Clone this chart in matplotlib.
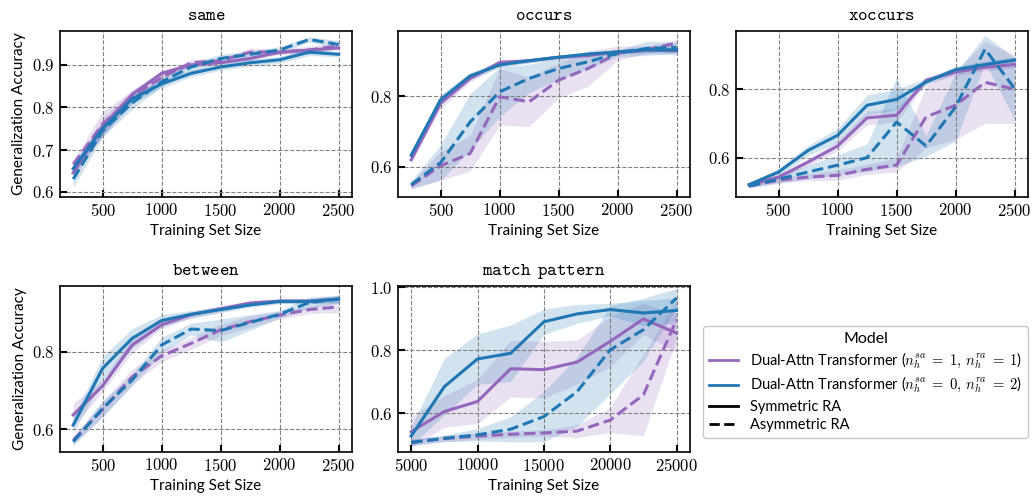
import matplotlib
matplotlib.use("Agg")
import matplotlib.pyplot as plt
from matplotlib.lines import Line2D
from matplotlib.ticker import FuncFormatter
import numpy as np

plt.rcParams.update({
    "font.family": ["Lato", "DejaVu Sans"],
    "mathtext.fontset": "cm",
    "font.size": 10,
})

PURPLE = "#9467bd"
BLUE = "#1f77b4"

sizes = [250, 500, 750, 1000, 1250, 1500, 1750, 2000, 2250, 2500]
sizes_match = [5000, 7500, 10000, 12500, 15000, 17500, 20000, 22500, 25000]

# rows: (1,1) symmetric, (1,1) asymmetric, (0,2) symmetric, (0,2) asymmetric
same_mean = [
    [0.645, 0.755, 0.830, 0.880, 0.900, 0.905, 0.915, 0.930, 0.935, 0.940],
    [0.665, 0.760, 0.825, 0.870, 0.905, 0.910, 0.930, 0.930, 0.935, 0.945],
    [0.655, 0.750, 0.820, 0.855, 0.880, 0.895, 0.905, 0.912, 0.930, 0.925],
    [0.630, 0.745, 0.810, 0.860, 0.895, 0.915, 0.925, 0.935, 0.960, 0.948],
]
same_sd = [
    [0.015, 0.020, 0.010, 0.008, 0.005, 0.005, 0.005, 0.005, 0.005, 0.005],
    [0.010, 0.030, 0.015, 0.010, 0.008, 0.005, 0.010, 0.005, 0.010, 0.005],
    [0.015, 0.015, 0.010, 0.010, 0.008, 0.008, 0.008, 0.008, 0.008, 0.006],
    [0.020, 0.015, 0.015, 0.010, 0.010, 0.010, 0.008, 0.008, 0.006, 0.010],
]

occurs_mean = [
    [0.620, 0.780, 0.850, 0.895, 0.900, 0.910, 0.915, 0.925, 0.930, 0.928],
    [0.546, 0.603, 0.638, 0.798, 0.784, 0.845, 0.878, 0.921, 0.931, 0.950],
    [0.633, 0.790, 0.857, 0.888, 0.900, 0.910, 0.919, 0.925, 0.931, 0.931],
    [0.550, 0.612, 0.727, 0.812, 0.850, 0.878, 0.897, 0.921, 0.935, 0.937],
]
occurs_sd = [
    [0.010, 0.015, 0.010, 0.008, 0.006, 0.005, 0.005, 0.005, 0.005, 0.005],
    [0.010, 0.040, 0.050, 0.080, 0.070, 0.050, 0.050, 0.020, 0.010, 0.010],
    [0.010, 0.015, 0.010, 0.008, 0.006, 0.005, 0.005, 0.005, 0.010, 0.015],
    [0.010, 0.050, 0.080, 0.070, 0.040, 0.030, 0.020, 0.010, 0.020, 0.015],
]

xoccurs_mean = [
    [0.520, 0.543, 0.587, 0.634, 0.716, 0.724, 0.826, 0.850, 0.864, 0.872],
    [0.517, 0.534, 0.543, 0.548, 0.566, 0.578, 0.719, 0.753, 0.820, 0.800],
    [0.521, 0.558, 0.621, 0.665, 0.753, 0.770, 0.821, 0.857, 0.872, 0.885],
    [0.517, 0.537, 0.558, 0.578, 0.600, 0.704, 0.634, 0.748, 0.917, 0.802],
]
xoccurs_sd = [
    [0.005, 0.010, 0.010, 0.015, 0.020, 0.020, 0.010, 0.010, 0.010, 0.010],
    [0.005, 0.010, 0.010, 0.015, 0.015, 0.020, 0.090, 0.100, 0.120, 0.100],
    [0.005, 0.010, 0.015, 0.020, 0.030, 0.030, 0.010, 0.010, 0.010, 0.010],
    [0.005, 0.010, 0.020, 0.030, 0.040, 0.130, 0.030, 0.100, 0.040, 0.090],
]

between_mean = [
    [0.637, 0.712, 0.817, 0.869, 0.895, 0.910, 0.925, 0.930, 0.930, 0.935],
    [0.572, 0.651, 0.735, 0.789, 0.821, 0.856, 0.877, 0.894, 0.908, 0.915],
    [0.611, 0.757, 0.834, 0.880, 0.896, 0.908, 0.920, 0.929, 0.929, 0.935],
    [0.568, 0.654, 0.727, 0.817, 0.858, 0.854, 0.875, 0.896, 0.926, 0.935],
]
between_sd = [
    [0.030, 0.015, 0.020, 0.010, 0.008, 0.008, 0.006, 0.006, 0.006, 0.008],
    [0.010, 0.020, 0.020, 0.015, 0.015, 0.015, 0.015, 0.010, 0.010, 0.015],
    [0.020, 0.030, 0.025, 0.015, 0.010, 0.008, 0.006, 0.006, 0.006, 0.010],
    [0.010, 0.020, 0.015, 0.020, 0.015, 0.030, 0.020, 0.010, 0.015, 0.010],
]

match_mean = [
    [0.542, 0.606, 0.638, 0.742, 0.739, 0.763, 0.829, 0.900, 0.855],
    [0.508, 0.520, 0.528, 0.534, 0.538, 0.544, 0.579, 0.659, 0.898],
    [0.528, 0.685, 0.773, 0.791, 0.891, 0.916, 0.930, 0.919, 0.927],
    [0.508, 0.521, 0.532, 0.550, 0.590, 0.669, 0.802, 0.866, 0.967],
]
match_sd = [
    [0.050, 0.050, 0.070, 0.090, 0.090, 0.070, 0.080, 0.050, 0.060],
    [0.010, 0.010, 0.010, 0.010, 0.010, 0.020, 0.040, 0.130, 0.060],
    [0.030, 0.090, 0.080, 0.090, 0.040, 0.030, 0.020, 0.040, 0.040],
    [0.010, 0.010, 0.020, 0.040, 0.080, 0.110, 0.140, 0.100, 0.030],
]

styles = [(PURPLE, "-"), (PURPLE, "--"), (BLUE, "-"), (BLUE, "--")]

panels = [
    (r"$\mathtt{same}$", sizes, same_mean, same_sd, (0.588, 0.98), [0.6, 0.7, 0.8, 0.9]),
    (r"$\mathtt{occurs}$", sizes, occurs_mean, occurs_sd, (0.515, 0.984), [0.6, 0.8]),
    (r"$\mathtt{xoccurs}$", sizes, xoccurs_mean, xoccurs_sd, (0.485, 0.97), [0.6, 0.8]),
    (r"$\mathtt{between}$", sizes, between_mean, between_sd, (0.542, 0.969), [0.6, 0.8]),
    (r"$\mathtt{match}\enspace\mathtt{pattern}$", sizes_match, match_mean, match_sd,
     (0.478, 1.005), [0.6, 0.8, 1.0]),
]

fig, axes = plt.subplots(2, 3, figsize=(10.33, 4.96), dpi=100)
fig.subplots_adjust(left=0.058, right=0.995, bottom=0.089, top=0.9375,
                    wspace=0.1575, hspace=0.536)

xfmt = FuncFormatter(lambda v, pos: f"${v:g}$")
yfmt = FuncFormatter(lambda v, pos: f"${v:.1f}$")

for ax, (title, x, means, sds, ylim, yt) in zip(axes.flat, panels):
    x = np.array(x)
    for (color, ls), m, s in zip(styles, means, sds):
        m = np.array(m)
        s = np.array(s)
        ax.fill_between(x, m - s, m + s, color=color, alpha=0.2, lw=0)
        ax.plot(x, m, color=color, ls=ls, lw=2.2)
    ax.set_title(title, fontsize=13, pad=8)
    ax.set_ylim(*ylim)
    ax.set_yticks(yt)
    ax.set_xticks(x[1::2] if len(x) == 10 else x[::2])
    ax.xaxis.set_major_formatter(xfmt)
    ax.yaxis.set_major_formatter(yfmt)
    ax.set_xlabel("Training Set Size", fontsize=11)
    ax.grid(True, ls="--", color="gray", lw=0.8)
    ax.tick_params(direction="in", length=5, width=1.5, labelsize=12)
    for sp in ax.spines.values():
        sp.set_linewidth(1.2)

axes[0, 0].set_ylabel("Generalization Accuracy", fontsize=11)
axes[1, 0].set_ylabel("Generalization Accuracy", fontsize=11)
axes[1, 2].axis("off")

handles = [
    Line2D([], [], color=PURPLE, lw=2),
    Line2D([], [], color=BLUE, lw=2),
    Line2D([], [], color="black", lw=2, ls="-"),
    Line2D([], [], color="black", lw=2, ls="--"),
]
labels = [
    r"Dual-Attn Transformer ($n_h^{sa}\;=\;1,\, n_h^{ra}\;=\;1$)",
    r"Dual-Attn Transformer ($n_h^{sa}\;=\;0,\, n_h^{ra}\;=\;2$)",
    "Symmetric RA",
    "Asymmetric RA",
]
fig.legend(handles, labels, title="Model", loc="center",
           bbox_to_anchor=(0.838, 0.230), fontsize=10.5, title_fontsize=11.5,
           handlelength=2.0, labelspacing=0.3, borderpad=0.4,
           edgecolor="#bbbbbb", fancybox=True)

fig.savefig("out.png", dpi=100)
